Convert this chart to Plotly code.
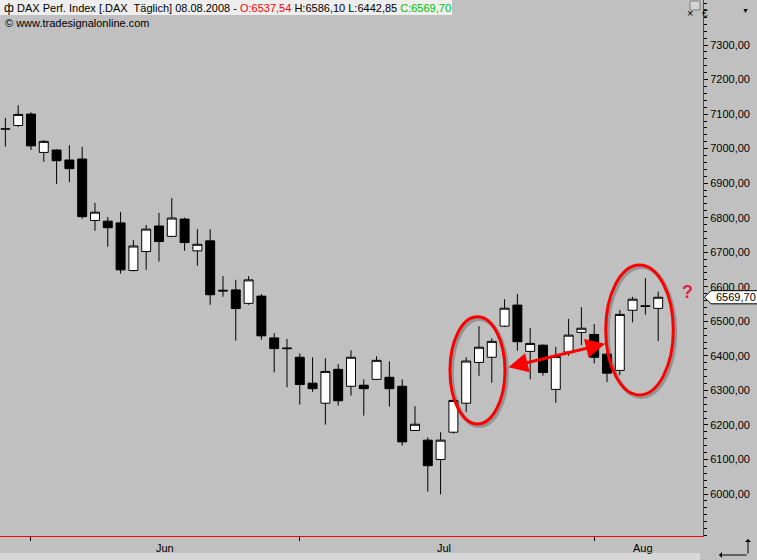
import plotly.graph_objects as go

# ---------------- data ----------------
dates = [
    "2008-05-29", "2008-05-30",
    "2008-06-02", "2008-06-03", "2008-06-04", "2008-06-05", "2008-06-06",
    "2008-06-09", "2008-06-10", "2008-06-11", "2008-06-12", "2008-06-13",
    "2008-06-16", "2008-06-17", "2008-06-18", "2008-06-19", "2008-06-20",
    "2008-06-23", "2008-06-24", "2008-06-25", "2008-06-26", "2008-06-27",
    "2008-06-30", "2008-07-01", "2008-07-02", "2008-07-03", "2008-07-04",
    "2008-07-07", "2008-07-08", "2008-07-09", "2008-07-10", "2008-07-11",
    "2008-07-14", "2008-07-15", "2008-07-16", "2008-07-17", "2008-07-18",
    "2008-07-21", "2008-07-22", "2008-07-23", "2008-07-24", "2008-07-25",
    "2008-07-28", "2008-07-29", "2008-07-30", "2008-07-31",
    "2008-08-01", "2008-08-04", "2008-08-05", "2008-08-06", "2008-08-07", "2008-08-08",
]
opens = [7057, 7067, 7100, 6989, 6996, 6967, 6970, 6792, 6790, 6785,
         6647, 6702, 6776, 6746, 6796, 6704, 6733, 6590, 6591, 6552,
         6573, 6452, 6423, 6396, 6321, 6263, 6361, 6312, 6315, 6332,
         6338, 6312, 6184, 6156, 6100, 6179, 6263, 6381, 6396, 6486,
         6547, 6413, 6431, 6303, 6411, 6468, 6462, 6405, 6358, 6532,
         6545, 6537.54]
highs = [7089, 7126, 7105, 7025, 6998, 7010, 7005, 6843, 6802, 6817,
         6735, 6779, 6814, 6857, 6800, 6767, 6767, 6631, 6620, 6631,
         6579, 6466, 6449, 6407, 6396, 6393, 6376, 6416, 6332, 6399,
         6384, 6332, 6254, 6164, 6179, 6275, 6396, 6486, 6451, 6564,
         6579, 6481, 6433, 6426, 6507, 6541, 6492, 6410, 6533, 6571,
         6625, 6586.10]
lows = [7006, 7063, 6996, 6962, 6898, 6903, 6797, 6762, 6716, 6638,
        6645, 6649, 6673, 6744, 6704, 6661, 6548, 6571, 6444, 6548,
        6447, 6352, 6309, 6259, 6296, 6201, 6256, 6285, 6227, 6330,
        6253, 6140, 6184, 6007, 5999, 6175, 6237, 6342, 6322, 6484,
        6415, 6332, 6343, 6264, 6400, 6431, 6378, 6324, 6344, 6497,
        6519, 6442.85]
closes = [7057, 7099, 7008, 7021, 6965, 6942, 6803, 6816, 6771, 6649,
          6718, 6767, 6731, 6799, 6728, 6723, 6577, 6588, 6537, 6620,
          6458, 6421, 6421, 6317, 6305, 6355, 6270, 6396, 6305, 6387,
          6305, 6151, 6202, 6082, 6156, 6271, 6385, 6425, 6442, 6538,
          6441, 6436, 6352, 6398, 6460, 6480, 6396, 6350, 6520, 6564,
          6543, 6569.70]

y_tick_values = [6000, 6100, 6200, 6300, 6400, 6500, 6600, 6700, 6800, 6900, 7000, 7100, 7200, 7300]
y_tick_labels = ["6000,00", "6100,00", "6200,00", "6300,00", "6400,00", "6500,00", "6600,00",
                 "6700,00", "6800,00", "6900,00", "7000,00", "7100,00", "7200,00", "7300,00"]
month_starts = ["2008-06-02", "2008-07-01", "2008-08-01"]
month_labels = ["Jun", "Jul", "Aug"]
month_label_pos = [12.5, 34.3, 49.8]

header_name = "DAX Perf. Index [.DAX  Täglich] 08.08.2008 - "
o_txt, h_txt, l_txt, c_txt = "O:6537,54", "H:6586,10", "L:6442,85", "C:6569,70"
last_label = "6569,70"

# ---------------- figure ----------------
W, H = 757, 560
ML, MR, MT, MB = 0, 54, 0, 24
PW = W - ML - MR
PH = H - MT - MB

def px_x(p):      # pixel -> paper x (plot domain)
    return (p - ML) / PW

def px_y(p):      # pixel -> paper y
    return (H - MB - p) / PH

x_idx = list(range(len(dates)))
BG = "#c0c0c0"
FONT = "Liberation Sans"

fig = go.Figure()
fig.add_trace(go.Candlestick(
    x=x_idx, open=opens, high=highs, low=lows, close=closes,
    increasing=dict(fillcolor="white", line=dict(color="black", width=1)),
    decreasing=dict(fillcolor="black", line=dict(color="black", width=1)),
    whiskerwidth=0, showlegend=False, hoverinfo="skip",
))

tick_idx = [dates.index(d) for d in month_starts]

shapes = []
annotations = []

# header strip
shapes.append(dict(type="rect", xref="paper", yref="paper", x0=0, x1=px_x(452),
                   y0=px_y(15), y1=px_y(0), fillcolor="#eeeeee", line=dict(width=0), layer="above"))
annotations.append(dict(xref="paper", yref="paper", x=px_x(2), y=px_y(7.5), xanchor="left", yanchor="middle",
                        text="ф", showarrow=False, font=dict(family=FONT, size=12, color="black")))
annotations.append(dict(
    xref="paper", yref="paper", x=px_x(15), y=px_y(7.5), xanchor="left", yanchor="middle",
    text=(header_name + '<span style="color:#ff0000">' + o_txt + '</span> ' + h_txt + ' ' + l_txt +
          ' <span style="color:#00c000">' + c_txt + '</span>'),
    showarrow=False, font=dict(family=FONT, size=11, color="black")))
annotations.append(dict(xref="paper", yref="paper", x=px_x(3), y=px_y(23), xanchor="left", yanchor="middle",
                        text="© www.tradesignalonline.com", showarrow=False,
                        font=dict(family=FONT, size=11, color="black")))

# top-right controls
shapes.append(dict(type="rect", xref="paper", yref="paper", x0=px_x(690), x1=px_x(700),
                   y0=px_y(10), y1=px_y(1), fillcolor="#d4d4d4", line=dict(color="#808080", width=1), layer="above"))
annotations.append(dict(xref="paper", yref="paper", x=px_x(695), y=px_y(5.5), text="×", showarrow=False,
                        font=dict(family=FONT, size=11, color="black")))
annotations.append(dict(xref="paper", yref="paper", x=px_x(710), y=px_y(6), text="€", showarrow=False,
                        font=dict(family=FONT, size=10, color="black")))
annotations.append(dict(xref="paper", yref="paper", x=px_x(751), y=px_y(5), text="▼", showarrow=False,
                        font=dict(family=FONT, size=7, color="black")))

# month labels
for lab, pos in zip(month_labels, month_label_pos):
    annotations.append(dict(xref="x", yref="paper", x=pos, y=px_y(548), text=lab, showarrow=False,
                            yanchor="middle", font=dict(family=FONT, size=11, color="black")))

# bottom scroll strip
shapes.append(dict(type="rect", xref="paper", yref="paper", x0=0, x1=px_x(700),
                   y0=px_y(560), y1=px_y(553), fillcolor="#d8d8d8", line=dict(width=0)))

# bottom-right corner icon
annotations.append(dict(xref="paper", yref="paper", x=px_x(748), y=px_y(539), ax=0, ay=16,
                        text="", showarrow=True, arrowhead=1, arrowsize=1, arrowwidth=1, arrowcolor="black"))
annotations.append(dict(xref="paper", yref="paper", x=px_x(719), y=px_y(555), ax=29, ay=0,
                        text="", showarrow=True, arrowhead=1, arrowsize=1, arrowwidth=1, arrowcolor="black"))

# red ellipses (with light shadow)
ell1 = dict(x0=34.73, x1=39.03, y0=6203, y1=6513)
ell2 = dict(x0=46.90, x1=52.18, y0=6287, y1=6663)
for e in (ell1, ell2):
    shapes.append(dict(type="circle", xref="x", yref="y", x0=e["x0"] + 0.15, x1=e["x1"] + 0.15,
                       y0=e["y0"] - 6, y1=e["y1"] - 6, line=dict(color="rgba(70,70,70,0.35)", width=4), layer="above"))
    shapes.append(dict(type="circle", xref="x", yref="y", x0=e["x0"], x1=e["x1"],
                       y0=e["y0"], y1=e["y1"], line=dict(color="#ff0000", width=3), layer="above"))

# double-headed arrow
annotations.append(dict(xref="x", yref="y", axref="x", ayref="y", x=39.3, y=6367, ax=46.98, ay=6436,
                        text="", showarrow=True, arrowside="end+start", arrowhead=2, startarrowhead=2,
                        arrowsize=1.3, startarrowsize=1.3, arrowwidth=3, arrowcolor="#ff0000"))

# question mark
annotations.append(dict(xref="x", yref="y", x=53.3, y=6585, text="<b>?</b>", showarrow=False,
                        font=dict(family=FONT, size=18, color="#e0204a")))

# last price tag
last = closes[-1]
dy = 19
shapes.append(dict(type="path", xref="paper", yref="y", layer="above",
                   path=(f"M {px_x(704.5)} {last} L {px_x(711)} {last + dy} L {px_x(760)} {last + dy} "
                         f"L {px_x(760)} {last - dy} L {px_x(711)} {last - dy} Z"),
                   fillcolor="white", line=dict(color="black", width=1)))
annotations.append(dict(xref="paper", yref="y", x=px_x(714), y=last, xanchor="left", yanchor="middle",
                        text=last_label, showarrow=False, font=dict(family=FONT, size=11, color="black")))

fig.update_layout(
    width=W, height=H, autosize=False,
    margin=dict(l=ML, r=MR, t=MT, b=MB, pad=0),
    paper_bgcolor=BG, plot_bgcolor=BG,
    showlegend=False,
    boxgap=0.3, boxgroupgap=0,
    shapes=shapes, annotations=annotations,
    xaxis=dict(range=[-0.42, 54.5], showgrid=False, zeroline=False, rangeslider=dict(visible=False),
               showline=True, linecolor="#ff0000", linewidth=1, ticks="outside", ticklen=4,
               tickcolor="black", tickvals=tick_idx, ticktext=["", "", ""], fixedrange=True),
    yaxis=dict(range=[5878.5, 7430.3], side="right", showgrid=False, zeroline=False,
               showline=True, linecolor="#ff0000", linewidth=1, ticks="outside", ticklen=4,
               tickcolor="black", tickvals=y_tick_values, ticktext=y_tick_labels,
               tickfont=dict(family=FONT, size=11, color="black"),
               minor=dict(tickmode="linear", tick0=0, dtick=20, ticks="outside", ticklen=3, tickcolor="black"),
               fixedrange=True),
)

fig.write_html("out.html", config={"displayModeBar": False},
               post_script="document.body.style.margin='0';document.body.style.overflow='hidden';")
